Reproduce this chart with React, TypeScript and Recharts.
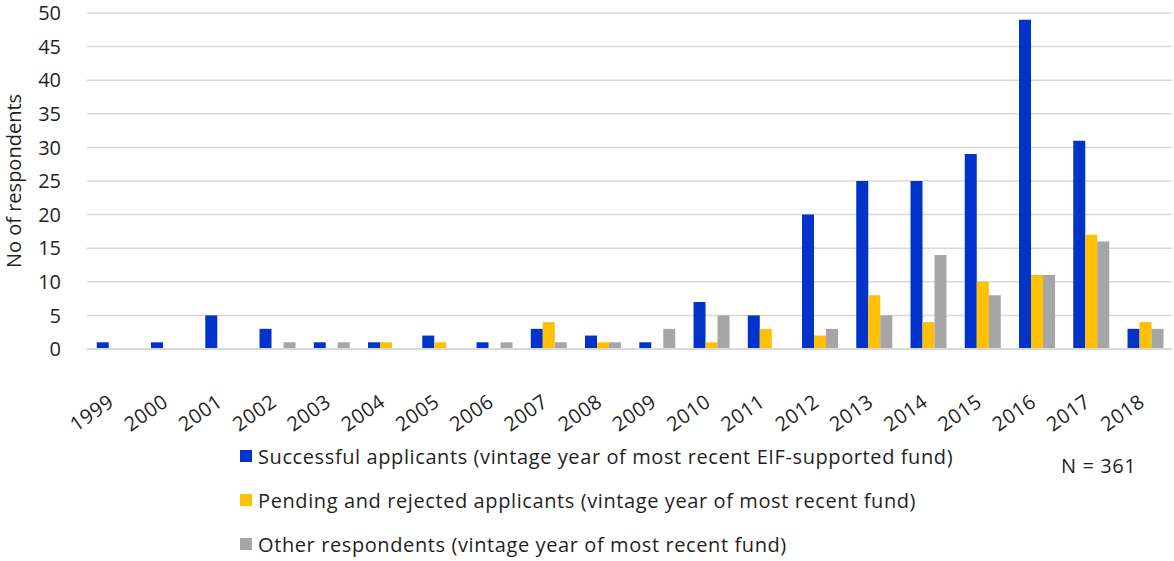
import { BarChart, Bar, XAxis, YAxis, CartesianGrid } from "recharts";

const YEARS = ["1999", "2000", "2001", "2002", "2003", "2004", "2005", "2006", "2007", "2008", "2009", "2010", "2011", "2012", "2013", "2014", "2015", "2016", "2017", "2018"];
const SUCCESSFUL = [1, 1, 5, 3, 1, 1, 2, 1, 3, 2, 1, 7, 5, 20, 25, 25, 29, 49, 31, 3];
const PENDING = [0, 0, 0, 0, 0, 1, 1, 0, 4, 1, 0, 1, 3, 2, 8, 4, 10, 11, 17, 4];
const OTHER = [0, 0, 0, 1, 1, 0, 0, 1, 1, 1, 3, 5, 0, 3, 5, 14, 8, 11, 16, 3];
const Y_TICKS = [0, 5, 10, 15, 20, 25, 30, 35, 40, 45, 50];

const SERIES = [
    { key: "successful", name: "Successful applicants (vintage year of most recent EIF-supported fund)", color: "#0033CC" },
    { key: "pending", name: "Pending and rejected applicants (vintage year of most recent fund)", color: "#FFC000" },
    { key: "other", name: "Other respondents (vintage year of most recent fund)", color: "#A6A6A6" },
];

const data = YEARS.map((year, i) => ({
    year,
    successful: SUCCESSFUL[i],
    pending: PENDING[i],
    other: OTHER[i],
}));

const FONT = "'Open Sans', Lato, sans-serif";
const TEXT = "#1f1f1f";

const YearTick = ({ x, y, payload }: any) => (
    <text
        transform={`translate(${x - 7},${y + 36}) rotate(-35)`}
        textAnchor="end"
        dy="0.72em"
        fontSize={20}
        letterSpacing={0.5}
        fontFamily={FONT}
        fill={TEXT}
    >
        {payload.value}
    </text>
);

const App = () => {
    return (
        <div style={{ position: "absolute", left: 0, top: 0, width: 1174, height: 561, background: "#fff", fontFamily: FONT }}>
            <BarChart
                width={1174}
                height={561}
                data={data}
                margin={{ top: 13, right: 2, bottom: 162, left: 0 }}
                barCategoryGap="18%"
                barGap={0}
            >
                <CartesianGrid vertical={false} stroke="#D9D9D9" strokeWidth={1.5} />
                <XAxis
                    dataKey="year"
                    height={50}
                    interval={0}
                    tick={<YearTick />}
                    tickLine={false}
                    axisLine={{ stroke: "#D9D9D9", strokeWidth: 2 }}
                />
                <YAxis
                    width={87}
                    domain={[0, 50]}
                    ticks={Y_TICKS}
                    interval={0}
                    tickLine={false}
                    axisLine={false}
                    tickMargin={20}
                    tick={{ fontSize: 20, fill: TEXT, fontFamily: FONT }}
                    label={{
                        value: "No of respondents",
                        angle: -90,
                        position: "insideLeft",
                        offset: 14,
                        style: { textAnchor: "middle", fontSize: 20, fill: TEXT, fontFamily: FONT },
                    }}
                />
                {SERIES.map((s) => (
                    <Bar key={s.key} dataKey={s.key} name={s.name} fill={s.color} isAnimationActive={false} />
                ))}
            </BarChart>
            <div style={{ position: "absolute", left: 240, top: 434 }}>
                {SERIES.map((s) => (
                    <div key={s.key} style={{ display: "flex", alignItems: "center", height: 44, gap: 6 }}>
                        <div style={{ width: 12, height: 12, background: s.color }} />
                        <span style={{ fontSize: 20, letterSpacing: 0.6, color: TEXT, whiteSpace: "nowrap" }}>{s.name}</span>
                    </div>
                ))}
            </div>
            <div style={{ position: "absolute", left: 1061, top: 452, fontSize: 20, letterSpacing: 0.6, color: TEXT, whiteSpace: "nowrap" }}>
                N = 361
            </div>
        </div>
    );
};

export default App;
